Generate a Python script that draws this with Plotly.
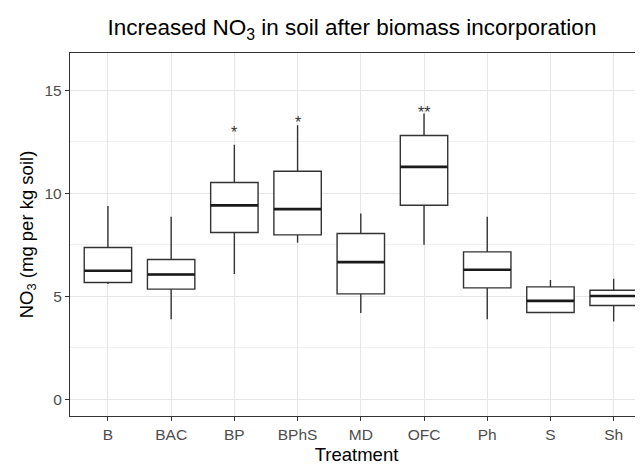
import plotly.graph_objects as go

treatments = ["B", "BAC", "BP", "BPhS", "MD", "OFC", "Ph", "S", "Sh"]
lower_whisker = [5.60, 3.89, 6.08, 7.60, 4.20, 7.50, 3.89, 4.22, 3.78]
q1 = [5.67, 5.35, 8.10, 7.98, 5.12, 9.42, 5.41, 4.22, 4.56]
median = [6.24, 6.06, 9.41, 9.23, 6.66, 11.28, 6.29, 4.78, 5.02]
q3 = [7.37, 6.79, 10.52, 11.07, 8.05, 12.80, 7.16, 5.46, 5.30]
upper_whisker = [9.38, 8.86, 12.35, 13.30, 9.02, 13.87, 8.86, 5.79, 5.85]
signif = ["", "", "*", "*", "", "**", "", "", ""]
signif_y = [None, None, 13.1, 13.58, None, 14.06, None, None, None]
y_limits = [0, 16]

idx = list(range(len(treatments)))
box_w = 0.75
font = "Liberation Sans, Arial, sans-serif"

fig = go.Figure()
fig.add_trace(go.Box(
    x=idx, q1=q1, median=median, q3=q3,
    lowerfence=lower_whisker, upperfence=upper_whisker,
    width=box_w, whiskerwidth=0, boxpoints=False,
    fillcolor="white", line=dict(color="#333333", width=1.4),
    hoverinfo="skip", showlegend=False,
))

# thicker median lines (ggplot fatten)
mx, my = [], []
for i, m in zip(idx, median):
    mx += [i - box_w / 2, i + box_w / 2, None]
    my += [m, m, None]
fig.add_trace(go.Scatter(x=mx, y=my, mode="lines",
                         line=dict(color="#1a1a1a", width=2.6),
                         hoverinfo="skip", showlegend=False))

for i, s, y in zip(idx, signif, signif_y):
    if s:
        fig.add_annotation(x=i, y=y, text=s, showarrow=False,
                           yanchor="middle", yshift=-3,
                           font=dict(family=font, size=16, color="#333333"))

pad = 0.05 * (y_limits[1] - y_limits[0])

# page body has an 8px margin: figure drawn at (8, 8)
fig.update_layout(
    width=635, height=459,
    margin=dict(l=62, r=0, t=45, b=51),
    paper_bgcolor="white", plot_bgcolor="white",
    title=dict(text="Increased NO<sub>3</sub> in soil after biomass incorporation",
               x=0.492, xref="paper", xanchor="center", y=0.958, yanchor="middle",
               font=dict(family=font, size=22.5, color="black")),
    font=dict(family=font),
    xaxis=dict(
        range=[-0.6, 8.464], tickmode="array", tickvals=idx, ticktext=treatments,
        showgrid=True, gridcolor="#e6e6e6", gridwidth=1,
        showline=True, linecolor="#333333", linewidth=1.3, mirror=True,
        ticks="outside", ticklen=4, tickcolor="#333333", tickwidth=1,
        tickfont=dict(family=font, size=15.5, color="#4d4d4d"),
        title=dict(text="Treatment", font=dict(family=font, size=18.5, color="black"), standoff=6),
        zeroline=False,
    ),
    yaxis=dict(
        range=[y_limits[0] - pad, y_limits[1] + pad], tickmode="array", tickvals=[0, 5, 10, 15],
        showgrid=True, gridcolor="#e6e6e6", gridwidth=1,
        minor=dict(tickmode="array", tickvals=[2.5, 7.5, 12.5], showgrid=True,
                   gridcolor="#f0f0f0", gridwidth=0.7, ticks=""),
        showline=True, linecolor="#333333", linewidth=1.3, mirror=False,
        ticks="outside", ticklen=4, tickcolor="#333333", tickwidth=1,
        tickfont=dict(family=font, size=15.5, color="#4d4d4d"),
        title=dict(text="NO<sub>3</sub> (mg per kg soil)", font=dict(family=font, size=18.5, color="black"), standoff=6),
        zeroline=False,
    ),
)

fig.write_html("out.html")
